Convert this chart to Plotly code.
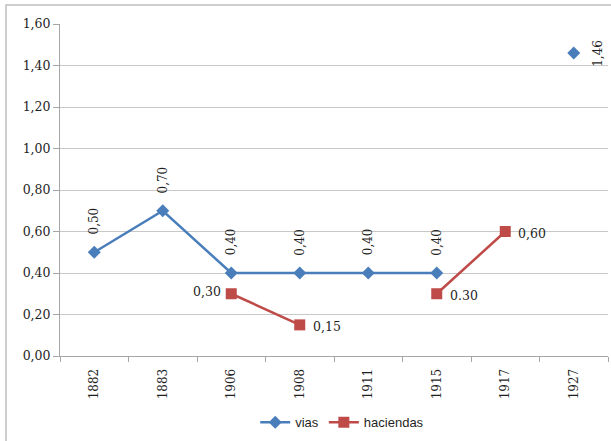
import plotly.graph_objects as go

years = ["1882", "1883", "1906", "1908", "1911", "1915", "1917", "1927"]
vias = [0.50, 0.70, 0.40, 0.40, 0.40, 0.40, None, 1.46]
haciendas = [None, None, 0.30, 0.15, None, 0.30, 0.60, None]
vias_labels = ["0,50", "0,70", "0,40", "0,40", "0,40", "0,40", None, "1,46"]
hac_labels = [None, None, "0,30", "0,15", None, "0.30", "0,60", None]
y_ticks = [0.0, 0.2, 0.4, 0.6, 0.8, 1.0, 1.2, 1.4, 1.6]
y_ticktext = ["0,00", "0,20", "0,40", "0,60", "0,80", "1,00", "1,20", "1,40", "1,60"]

BLUE = "#4A7EBB"
RED = "#BE4B48"
SERIF = "DejaVu Serif"
TXT = "#1f1f1f"

fig = go.Figure()
fig.add_trace(go.Scatter(
    x=years, y=vias, name="vias", mode="lines+markers",
    line=dict(color=BLUE, width=2.5),
    marker=dict(symbol="diamond", size=10, color=BLUE),
    connectgaps=False,
))
fig.add_trace(go.Scatter(
    x=years, y=haciendas, name="haciendas", mode="lines+markers",
    line=dict(color=RED, width=2.5),
    marker=dict(symbol="square", size=11, color=RED),
    connectgaps=False,
))

annos = []
for i, (yr, v, t) in enumerate(zip(years, vias, vias_labels)):
    if v is None:
        continue
    if yr == "1927":
        annos.append(dict(x=i, y=v, text=t, showarrow=False, textangle=-90,
                          xshift=24, yshift=0, font=dict(family=SERIF, size=12, color=TXT)))
    else:
        annos.append(dict(x=i, y=v, text=t, showarrow=False, textangle=-90,
                          xshift=0, yshift=31, font=dict(family=SERIF, size=12, color=TXT)))
for i, (yr, v, t) in enumerate(zip(years, haciendas, hac_labels)):
    if v is None:
        continue
    if yr == "1906":
        annos.append(dict(x=i, y=v, text=t, showarrow=False, xanchor="right",
                          xshift=-8, yshift=2, font=dict(family=SERIF, size=12.5, color=TXT)))
    else:
        annos.append(dict(x=i, y=v, text=t, showarrow=False, xanchor="left",
                          xshift=11, yshift=-2, font=dict(family=SERIF, size=12.5, color=TXT)))

fig.update_layout(
    width=611, height=441,
    margin=dict(l=60, r=3, t=24, b=83),
    paper_bgcolor="white", plot_bgcolor="white",
    showlegend=True,
    legend=dict(orientation="h", x=0.515, xanchor="center", y=-0.2, yanchor="middle",
                font=dict(family="Liberation Sans", size=13, color=TXT), itemwidth=30),
    annotations=annos,
    shapes=[dict(type="rect", xref="paper", yref="paper",
                 x0=-0.0985, x1=1.02, y0=-0.3, y1=1.057,
                 line=dict(color="#BFBFBF", width=1.5), layer="below")],
)
fig.update_xaxes(
    type="category", categoryorder="array", categoryarray=years,
    range=[-0.5, len(years) - 0.5], autorange=False,
    showline=True, linecolor="#A6A6A6", linewidth=1,
    ticks="outside", tickson="boundaries", ticklen=5, tickcolor="#A6A6A6",
    tickangle=-90, showgrid=False, ticklabelstandoff=7,
    tickfont=dict(family=SERIF, size=12, color=TXT),
)
fig.update_yaxes(
    range=[0, 1.6], tickvals=y_ticks, ticktext=y_ticktext,
    showline=True, linecolor="#A6A6A6", linewidth=1,
    ticks="outside", ticklen=6, tickcolor="#A6A6A6",
    showgrid=True, gridcolor="#C8C8C8", gridwidth=1, zeroline=False,
    tickfont=dict(family=SERIF, size=12.5, color=TXT),
)

fig.write_html("out.html", config={"displayModeBar": False},
               post_script="document.body.style.margin='0';")
